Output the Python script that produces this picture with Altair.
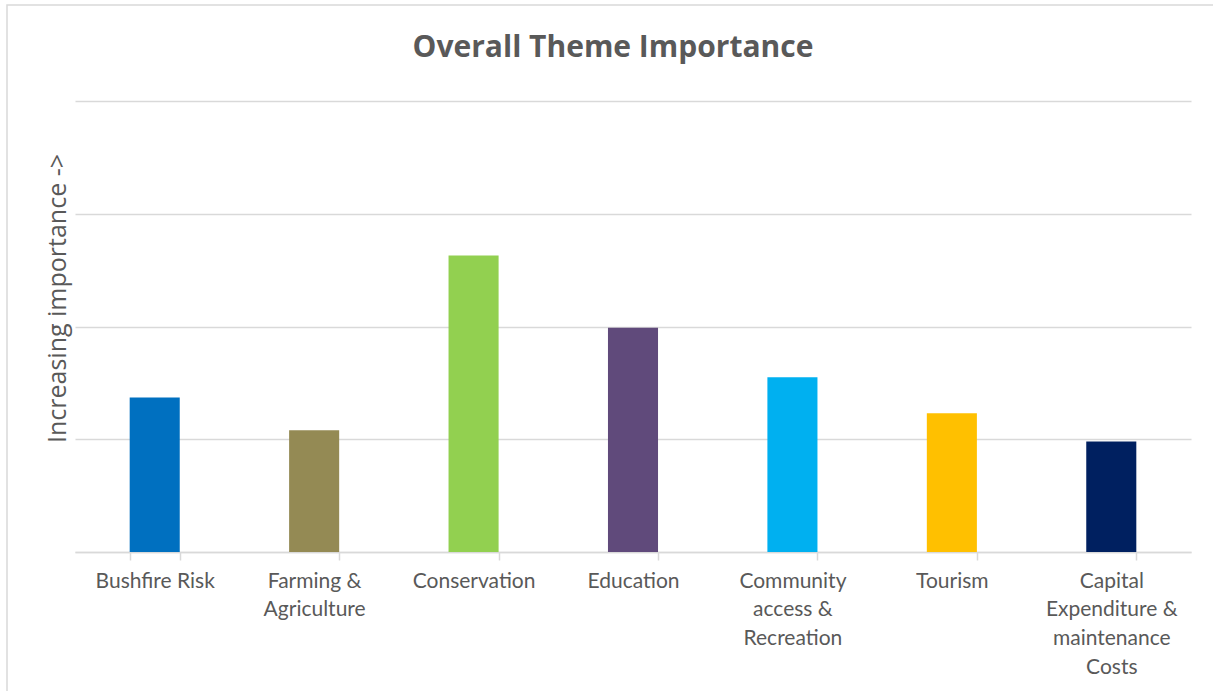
import altair as alt
import pandas as pd

title_text = "Overall Theme Importance"
y_title = "Increasing importance ->"
categories = ["Bushfire Risk", "Farming & Agriculture", "Conservation", "Education",
              "Community access & Recreation", "Tourism",
              "Capital Expenditure & maintenance Costs"]
label_lines = [["Bushfire Risk"], ["Farming &", "Agriculture"], ["Conservation"], ["Education"],
               ["Community", "access &", "Recreation"], ["Tourism"],
               ["Capital", "Expenditure &", "maintenance", "Costs"]]
values = [1.37, 1.08, 2.63, 1.99, 1.55, 1.23, 0.98]
colors = ["#0070C0", "#948A54", "#92D050", "#604A7B", "#00B0F0", "#FFC000", "#002060"]
grid_values = [0, 1, 2, 3, 4]

df = pd.DataFrame({"cat": categories, "value": values})
tdf = pd.DataFrame({"t": [title_text]})

lookup = "{" + ", ".join(
    '"%s": [%s]' % (c, ", ".join('"%s"' % l for l in lines))
    for c, lines in zip(categories, label_lines)) + "}"
label_expr = lookup + "[datum.label]"

FONT = "Lato"
GREY = "#595959"
LINE = "#d9d9d9"

border = alt.Chart(tdf).mark_rect(fill="transparent", stroke=LINE, strokeWidth=1.5).encode(
    x=alt.value(-68), x2=alt.value(1250), y=alt.value(-96), y2=alt.value(700)
)

title = alt.Chart(tdf).mark_text(font="Open Sans", fontSize=30, fontWeight="bold", color=GREY,
                                 align="center", baseline="alphabetic").encode(
    text="t:N", x=alt.value(538), y=alt.value(-44)
)

bars = alt.Chart(df).mark_bar().encode(
    x=alt.X("cat:N", sort=categories, title=None,
            scale=alt.Scale(paddingInner=0.686, paddingOuter=0.343),
            axis=alt.Axis(labelExpr=label_expr, labelAngle=0, labelLimit=0,
                          labelFont=FONT, labelFontSize=21, labelColor=GREY,
                          labelLineHeight=28.7, labelPadding=10,
                          tickBand="extent", tickSize=8, tickColor=LINE, tickWidth=1.5,
                          domainColor=LINE, domainWidth=1.5, grid=False)),
    y=alt.Y("value:Q", scale=alt.Scale(domain=[0, 4], nice=False),
            title=y_title,
            axis=alt.Axis(labels=False, ticks=False, domain=False,
                          values=grid_values,
                          gridColor=LINE, gridWidth=1.5,
                          titleFont="Open Sans", titleFontSize=25, titleFontWeight="normal",
                          titleColor=GREY, titleX=-18, titleY=197, titleAngle=-90,
                          titleAlign="center", titleBaseline="middle")),
    color=alt.Color("cat:N", sort=categories, legend=None,
                    scale=alt.Scale(domain=categories, range=colors)),
)

chart = alt.layer(border, title, bars).properties(
    width=1116, height=451,
    autosize="none",
    background="white",
    padding={"left": 75, "top": 101, "right": 22, "bottom": 139},
).configure_view(stroke=None)

chart.save("out.html", embed_options={"renderer": "svg", "actions": False})
